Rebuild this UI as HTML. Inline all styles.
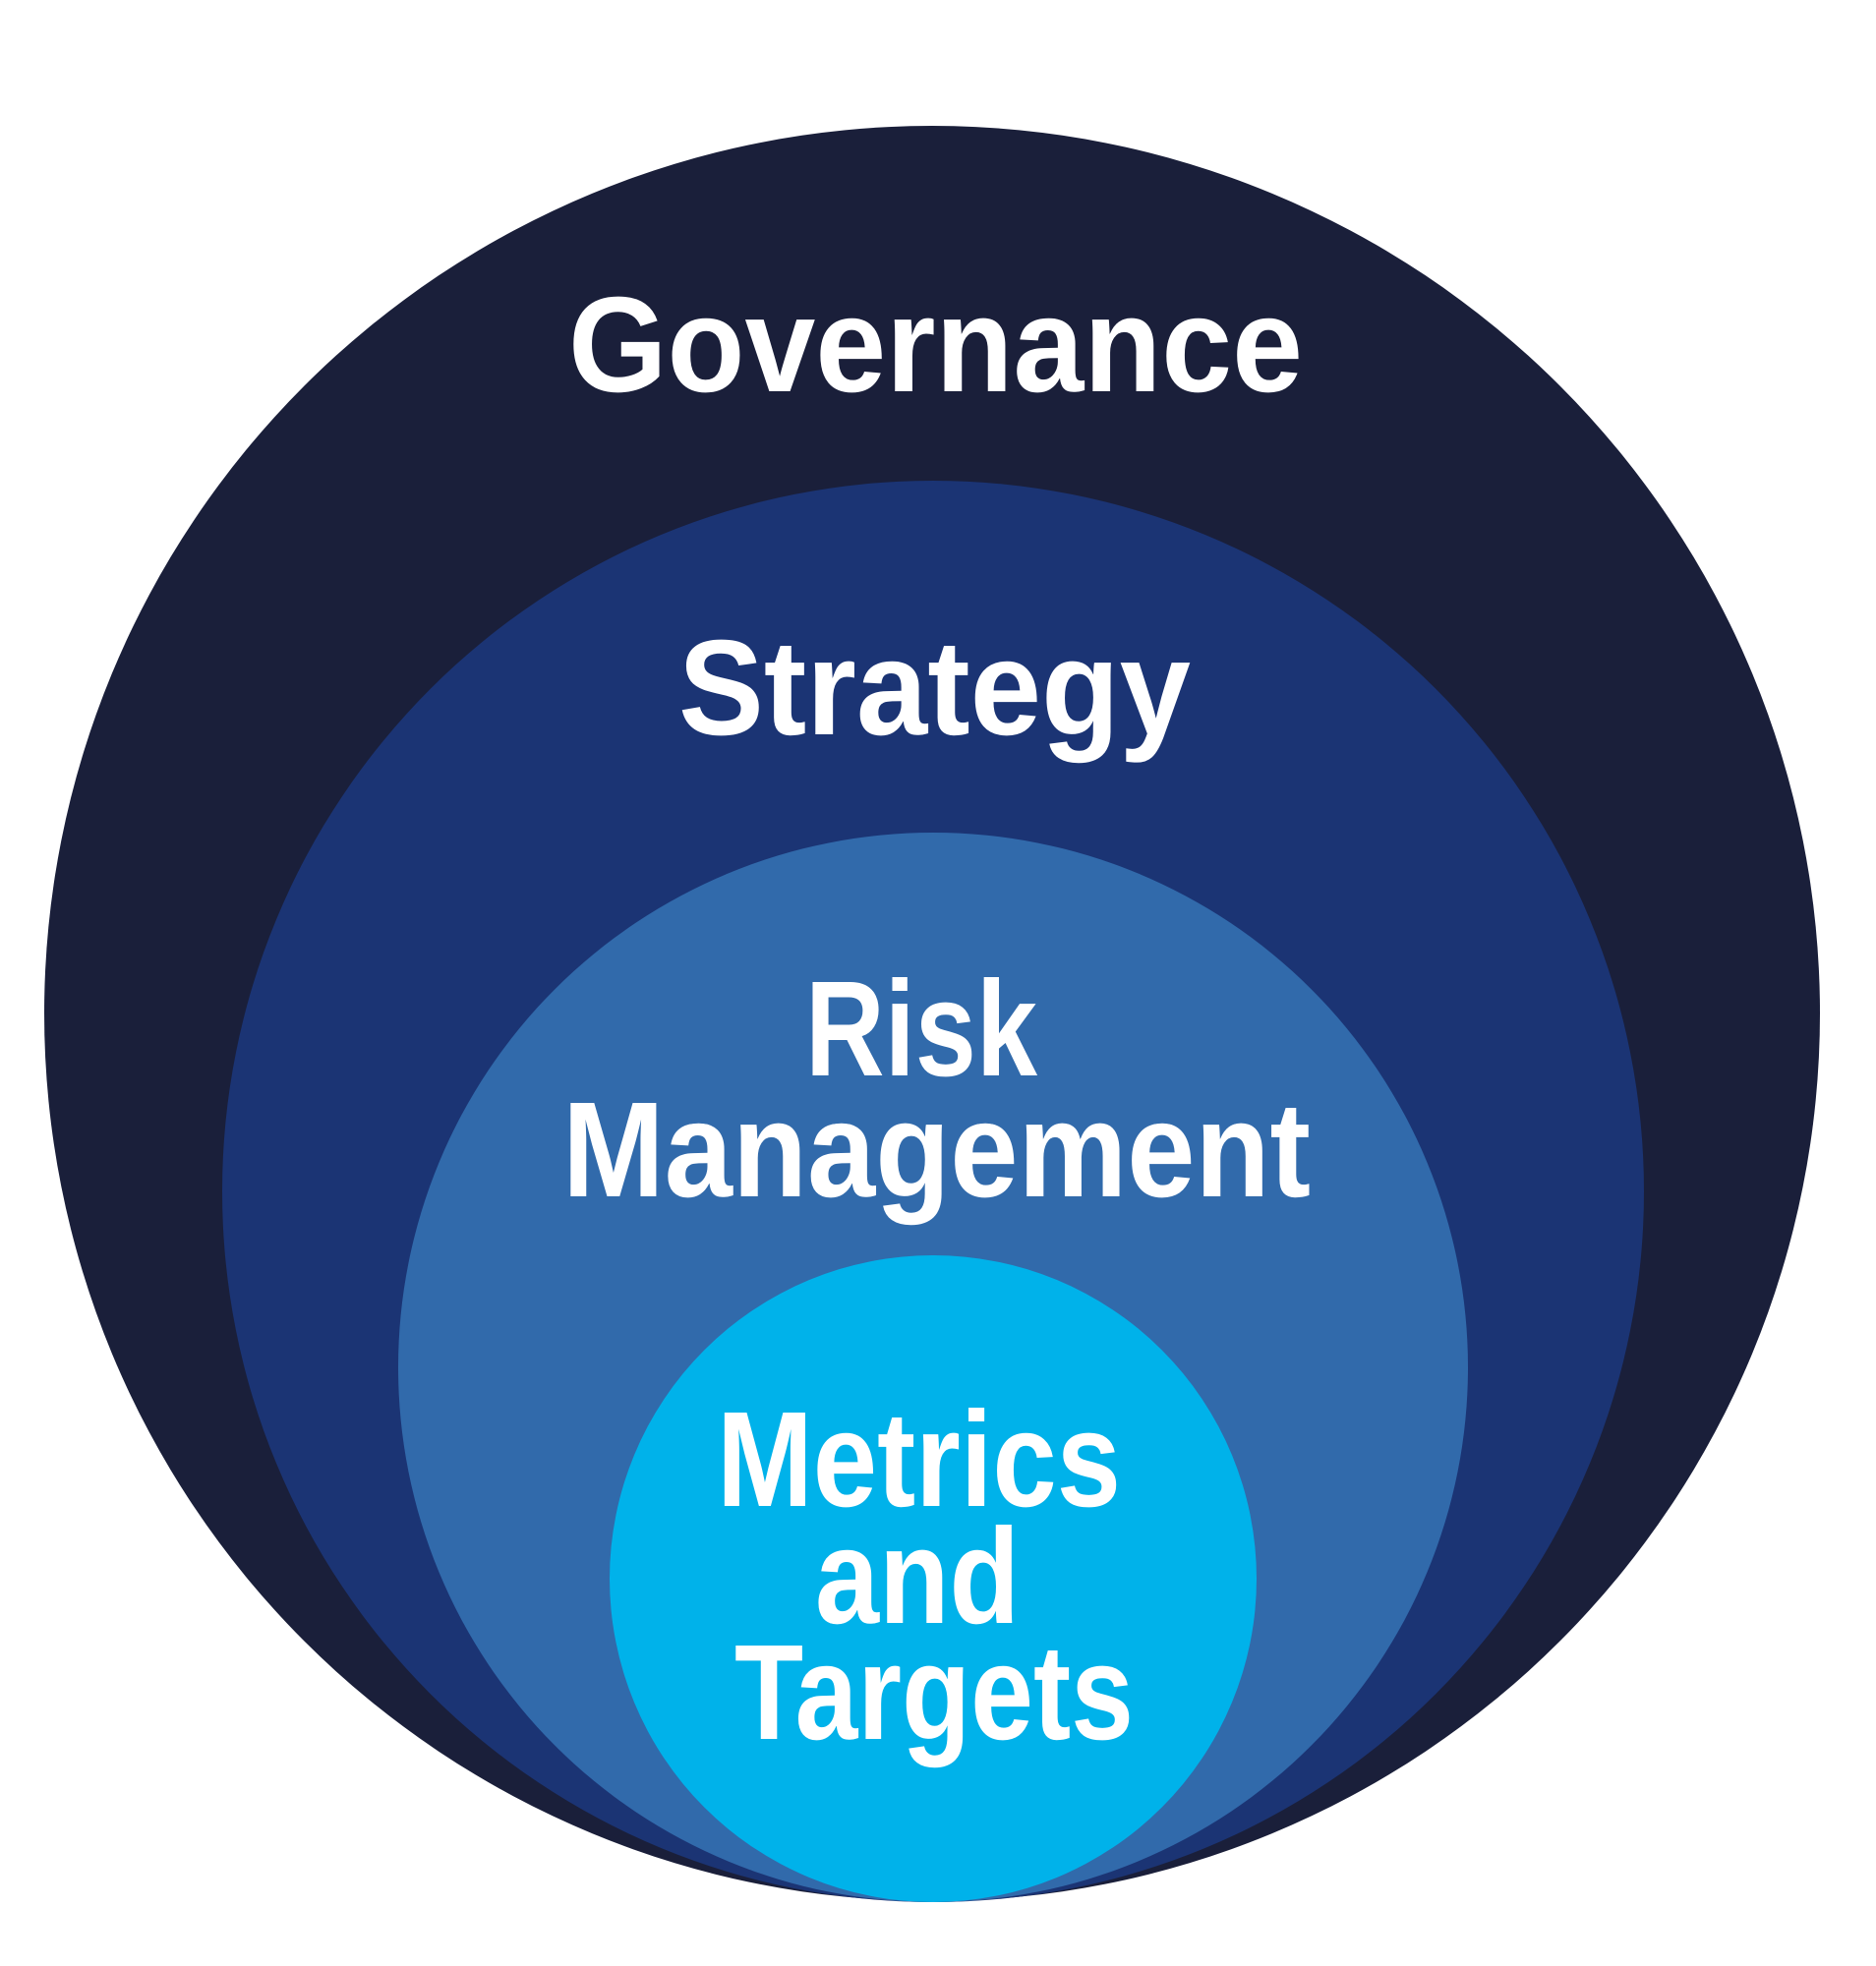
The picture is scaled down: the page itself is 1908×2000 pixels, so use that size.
<!DOCTYPE html>
<html><head><meta charset="utf-8"><style>html,body{margin:0;padding:0;background:#fff}svg{display:block}</style></head>
<body>
<svg width="1908" height="2000" viewBox="0 0 1908 2000" xmlns="http://www.w3.org/2000/svg">
<rect width="1908" height="2000" fill="#fff"/>
<circle cx="948" cy="1031" r="903" fill="#1a1f3a"/>
<circle cx="949" cy="1212" r="723" fill="#1b3474"/>
<circle cx="949" cy="1391" r="544" fill="#316aab"/>
<circle cx="949" cy="1606" r="329" fill="#00b2ea"/>
<g font-family="Liberation Sans, sans-serif" font-weight="bold" font-size="138" fill="#fff">
<text x="578" y="398" textLength="747" lengthAdjust="spacingAndGlyphs">Governance</text>
<text x="690" y="747" textLength="521" lengthAdjust="spacingAndGlyphs">Strategy</text>
<text x="819" y="1094" textLength="236" lengthAdjust="spacingAndGlyphs">Risk</text>
<text x="572" y="1217" textLength="761" lengthAdjust="spacingAndGlyphs">Management</text>
<text x="729" y="1532" textLength="411" lengthAdjust="spacingAndGlyphs">Metrics</text>
<text x="829" y="1651" textLength="208" lengthAdjust="spacingAndGlyphs">and</text>
<text x="747" y="1769" textLength="406" lengthAdjust="spacingAndGlyphs">Targets</text>
</g>
</svg>
</body></html>
